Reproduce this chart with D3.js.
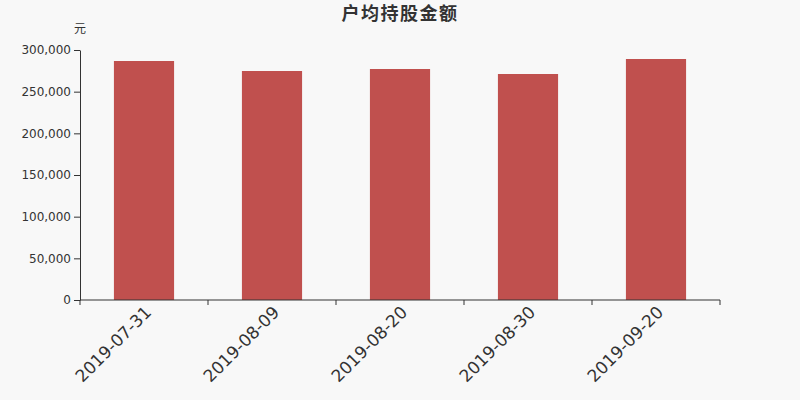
<!DOCTYPE html>
<html>
<head>
<meta charset="utf-8">
<script src="https://cdn.jsdelivr.net/npm/d3@7"></script>
<style>
body{margin:0;background:#f8f8f8;}
svg{display:block;}
svg text{font-family:"DejaVu Sans","Noto Sans CJK SC",sans-serif;}
</style>
</head>
<body>
<div id="chart"></div>
<script>
// 数据
const dates = ["2019-07-31","2019-08-09","2019-08-20","2019-08-30","2019-09-20"];
const amounts = [286800, 274800, 277200, 271200, 289200];
const yTicks = [0, 50000, 100000, 150000, 200000, 250000, 300000];

const width = 800, height = 400;
const margin = {top: 50, right: 80, bottom: 100, left: 80};

const svg = d3.select("#chart").append("svg")
    .attr("width", width).attr("height", height);

svg.append("rect").attr("width", width).attr("height", height).attr("fill", "#f8f8f8");

const x = d3.scaleBand()
    .domain(dates)
    .range([margin.left, width - margin.right])
    .paddingInner(0.53).paddingOuter(0.265);

const y = d3.scaleLinear()
    .domain([0, 300000])
    .range([height - margin.bottom, margin.top]);

// 标题
svg.append("text")
    .attr("x", width / 2).attr("y", 20)
    .attr("text-anchor", "middle")
    .attr("font-size", 18).attr("font-weight", "bold")
    .attr("letter-spacing", 1.5)
    .attr("fill", "#333")
    .text("户均持股金额");

svg.append("text")
    .attr("x", 80).attr("y", 33)
    .attr("text-anchor", "middle")
    .attr("font-size", 12).attr("fill", "#333")
    .text("元");

// 柱子
svg.selectAll(".bar")
    .data(dates)
    .enter().append("rect")
    .attr("class", "bar")
    .attr("x", d => x(d))
    .attr("width", x.bandwidth())
    .attr("y", (d, i) => y(amounts[i]))
    .attr("height", (d, i) => y(0) - y(amounts[i]))
    .attr("fill", "#c0504e");

// y轴
const yAxis = svg.append("g")
    .attr("transform", "translate(" + margin.left + ",0)")
    .call(d3.axisLeft(y).tickValues(yTicks).tickFormat(d3.format(",")).tickSizeOuter(0))
    .attr("font-family", null);
yAxis.selectAll("text").attr("font-size", 12).attr("fill", "#333");
yAxis.selectAll("line,path").attr("stroke", "#333");

// x轴
const xAxisG = svg.append("g")
    .attr("transform", "translate(0," + y(0) + ")");
xAxisG.append("line")
    .attr("x1", margin.left).attr("x2", width - margin.right)
    .attr("stroke", "#333");
const edges = d3.range(dates.length + 1).map(i => margin.left + i * (width - margin.left - margin.right) / dates.length);
xAxisG.selectAll(".tk").data(edges).enter().append("line")
    .attr("x1", d => d).attr("x2", d => d).attr("y1", 0).attr("y2", 5)
    .attr("stroke", "#333");
xAxisG.selectAll(".lbl").data(dates).enter().append("text")
    .attr("text-anchor", "end")
    .attr("font-size", 17).attr("fill", "#333")
    .attr("transform", d => "translate(" + (x(d) + x.bandwidth() / 2) + ",5) rotate(-45)")
    .attr("dy", "0.7em")
    .text(d => d);
</script>
</body>
</html>
